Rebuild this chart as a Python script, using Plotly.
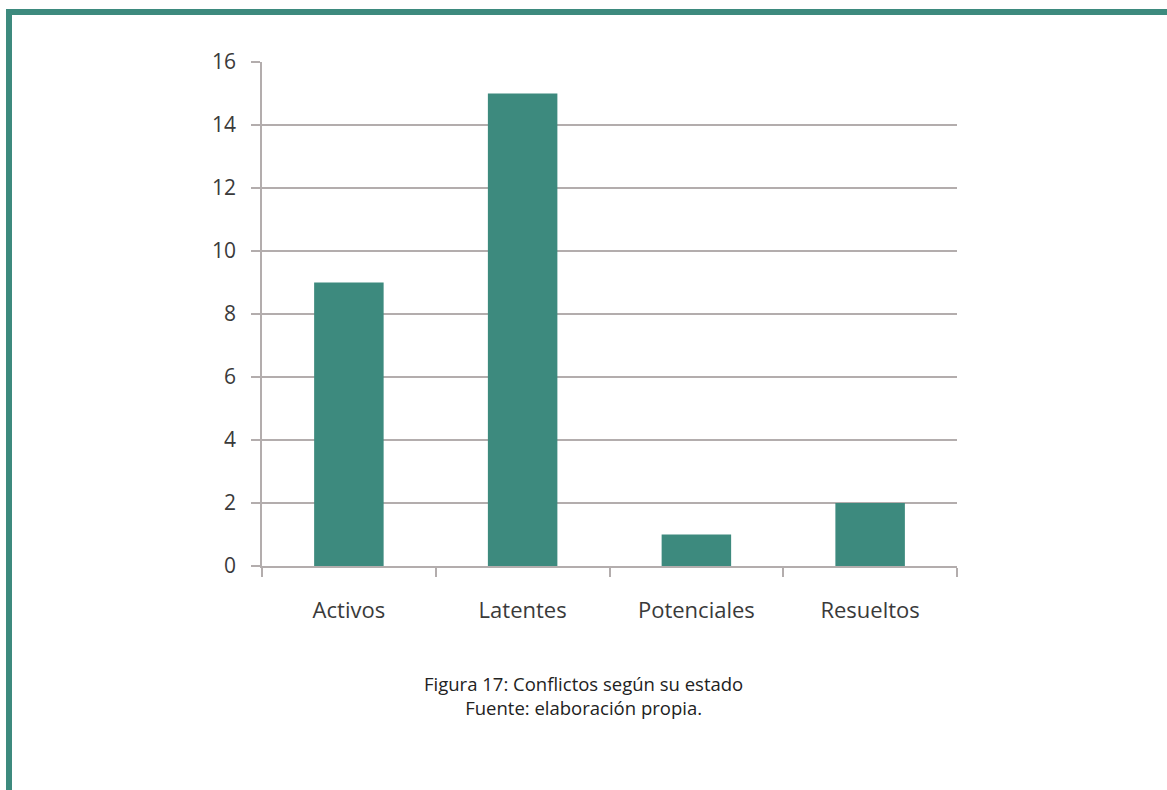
import plotly.graph_objects as go

categories = ["Activos", "Latentes", "Potenciales", "Resueltos"]
values = [9, 15, 1, 2]
y_ticks = [0, 2, 4, 6, 8, 10, 12, 14, 16]
caption_lines = ["Figura 17: Conflictos según su estado", "Fuente: elaboración propia."]

W, H = 1167, 790
L, R, T, B = 262, 957, 62, 566  # plot area in pixels

def px_x(p):
    return (p - L) / (R - L)

def px_y(p):
    return (B - p) / (B - T)

TEAL = "#3d8a7e"
GRID = "#b3adad"
FONT = "Open Sans, Noto Sans, sans-serif"

fig = go.Figure(go.Bar(
    x=categories, y=values, marker=dict(color=TEAL, line=dict(width=0)),
))

fig.update_layout(
    width=W, height=H,
    margin=dict(l=L, r=W - R, t=T, b=H - B, pad=0),
    paper_bgcolor="white", plot_bgcolor="white",
    bargap=0.6, showlegend=False,
    font=dict(family=FONT, color="#3a3a3a"),
)
fig.update_yaxes(
    range=[0, 16], tickvals=y_ticks, showgrid=True, gridcolor=GRID, gridwidth=1.5,
    showline=True, linecolor=GRID, linewidth=1.5,
    ticks="outside", ticklen=9, tickcolor=GRID, tickwidth=1.5,
    tickfont=dict(size=21, color="#3a3a3a"), ticklabelstandoff=11,
    zeroline=False, fixedrange=True,
)
fig.update_xaxes(
    showline=True, linecolor=GRID, linewidth=1.5,
    ticks="outside", ticklen=9, tickcolor=GRID, tickwidth=1.5,
    tickson="boundaries", showgrid=False,
    tickfont=dict(size=22, color="#3a3a3a"), ticklabelstandoff=24,
)

# frame (top and left teal border)
fig.add_shape(type="rect", xref="paper", yref="paper",
              x0=px_x(6), x1=px_x(W + 5), y0=px_y(15), y1=px_y(9),
              fillcolor=TEAL, line=dict(width=0), layer="above")
fig.add_shape(type="rect", xref="paper", yref="paper",
              x0=px_x(6), x1=px_x(12), y0=px_y(H + 5), y1=px_y(9),
              fillcolor=TEAL, line=dict(width=0), layer="above")

fig.add_annotation(
    xref="paper", yref="paper", x=px_x(583.5), y=px_y(669),
    text="<br>".join(caption_lines), showarrow=False, yanchor="top",
    xanchor="center", align="center",
    font=dict(family=FONT, size=18.5, color="#222222"),
)

fig.write_html("out.html")
